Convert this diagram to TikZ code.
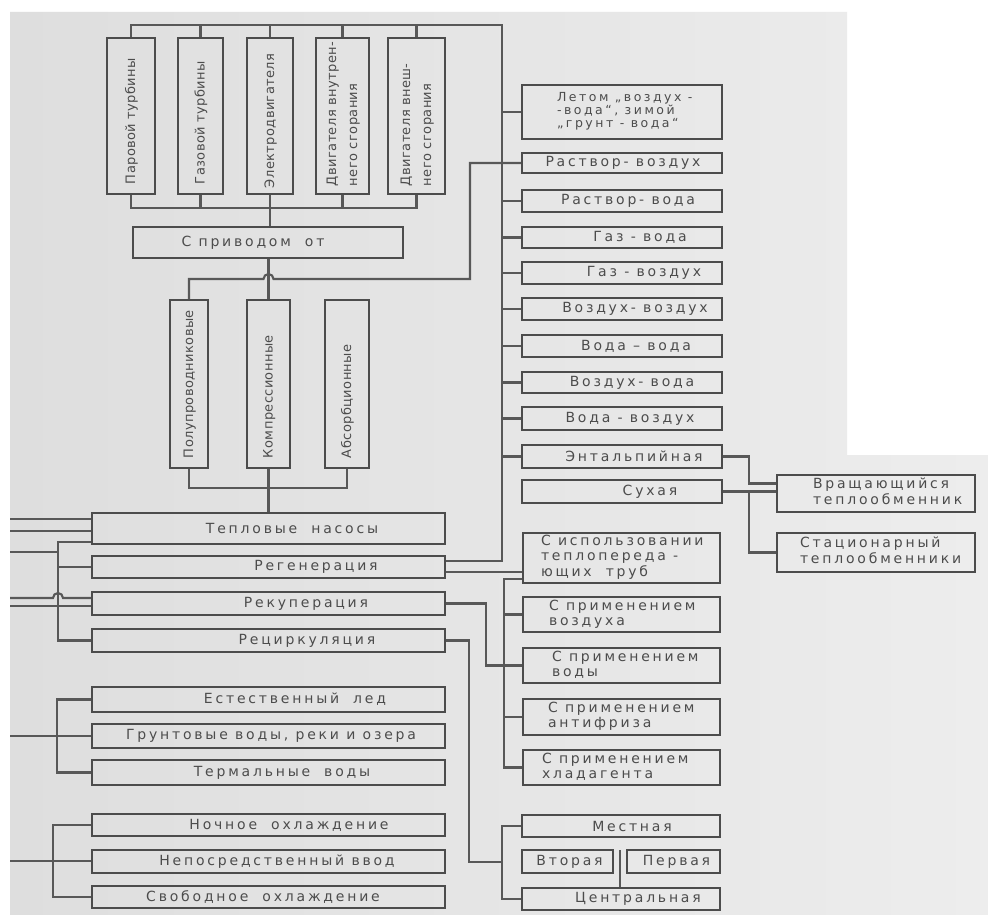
\documentclass[tikz,border=0pt]{standalone}
\usepackage{fontspec}
\setmainfont{DejaVu Sans}
\newfontfamily\hfont[LetterSpace=20]{DejaVu Sans}
\newfontfamily\vfont[LetterSpace=3]{DejaVu Sans}
\usetikzlibrary{calc}
\definecolor{edge}{HTML}{4C4C4C}
\definecolor{wire}{HTML}{585858}
\definecolor{ink}{HTML}{4C4C4C}
\definecolor{pageL}{HTML}{DEDEDE}
\definecolor{pageR}{HTML}{EDEDED}

% horizontal box, one line of text shifted by #6/2
\newcommand\mkh[7]{%
  \pgfmathsetmacro\mkW{#4-#2}\pgfmathsetmacro\mkH{#5-#3}%
  \node[box, minimum width=\mkW pt, minimum height=\mkH pt]
    (#1) at ({(#2+#4)/2},{(#3+#5)/2}) {\hspace*{#6pt}#7};}
% horizontal box, several left-aligned lines indented by #6
\newcommand\mkl[8]{%
  \pgfmathsetmacro\mkW{#4-#2}\pgfmathsetmacro\mkH{#5-#3}%
  \node[box, inner xsep=0pt, minimum width=\mkW pt, minimum height=\mkH pt, #8]
    (#1) at ({(#2+#4)/2},{(#3+#5)/2})
    {\makebox[\mkW pt][l]{\hspace*{#6pt}\begin{tabular}{@{}l@{}}#7\end{tabular}}};}
% upright box with text running bottom to top, indented by #6 from the bottom
\newcommand\mkv[7]{%
  \pgfmathsetmacro\mkW{#4-#2}\pgfmathsetmacro\mkH{#5-#3}%
  \node[vbox, minimum width=\mkH pt, minimum height=\mkW pt]
    (#1) at ({(#2+#4)/2},{(#3+#5)/2})
    {\makebox[\mkH pt][l]{\hspace*{#6pt}\begin{tabular}{@{}l@{}}#7\end{tabular}}};}

\begin{document}
\begin{tikzpicture}[x=1pt,y=-1pt,
  box/.style={draw=edge, line width=2.4pt, inner sep=0pt, text=ink,
              font=\hfont\fontsize{14}{15}\selectfont},
  vbox/.style={box, rotate=90, font=\vfont\fontsize{13}{21}\selectfont},
  link/.style={draw=wire, line width=2.1pt, line join=miter}]

\useasboundingbox (0,0) rectangle (988,915);
\fill[white] (0,0) rectangle (988,915);
\shade[left color=pageL, right color=pageR]
  (10,12) -- (847,12) -- (847,455) -- (988,455) -- (988,915) -- (10,915) -- cycle;

% drives
\mkv{p1}{107}{38}{155}{194}{10}{Паровой турбины}
\mkv{p2}{178}{38}{223}{194}{10}{Газовой турбины}
\mkv{p3}{247}{38}{293}{194}{6}{Электродвигателя}
\mkv{p4}{316}{38}{369}{194}{8}{Двигателя внутрен-\\него сгорания}
\mkv{p5}{388}{38}{445}{194}{8}{Двигателя внеш-\\него сгорания}
\mkh{drive}{133}{227}{403}{258}{-30}{С приводом\quad от}

% heat pump kinds
\mkv{s1}{170}{300}{208}{468}{10}{Полупроводниковые}
\mkv{s2}{247}{300}{290}{468}{10}{Компрессионные}
\mkv{s3}{325}{300}{369}{468}{10}{Абсорбционные}

% left column
\mkh{hp}{92}{513}{445}{544}{47}{Тепловые\quad насосы}
\mkh{reg}{92}{556}{445}{578}{95}{Регенерация}
\mkh{rek}{92}{592}{445}{615}{75}{Рекуперация}
\mkh{rec}{92}{629}{445}{652}{77}{Рециркуляция}
\mkh{ice}{92}{687}{445}{712}{53}{Естественный\quad лед}
\mkh{gw}{92}{724}{445}{748}{5}{Грунтовые воды, реки и озера}
\mkh{tw}{92}{760}{445}{785}{27}{Термальные\quad воды}
\mkh{nc}{92}{814}{445}{836}{41}{Ночное\quad охлаждение}
\mkh{dir}{92}{850}{445}{873}{17}{Непосредственный ввод}
\mkh{fc}{92}{886}{445}{908}{-11}{Свободное\quad охлаждение}

% right column
\mkl{sum}{522}{85}{722}{139}{35}{Летом „воздух -\\-вода“, зимой\\„грунт - вода“}{font=\hfont\fontsize{12.5}{12.5}\selectfont}
\mkh{rv}{522}{153}{722}{173}{2}{Раствор- воздух}
\mkh{rw}{522}{190}{722}{212}{12}{Раствор- вода}
\mkh{gv}{522}{227}{722}{248}{36}{Газ - вода}
\mkh{ga}{522}{262}{722}{284}{44}{Газ - воздух}
\mkh{aa}{522}{298}{722}{320}{26}{Воздух- воздух}
\mkh{ww}{522}{335}{722}{357}{28}{Вода – вода}
\mkh{aw}{522}{372}{722}{393}{20}{Воздух- вода}
\mkh{wa}{522}{407}{722}{430}{16}{Вода - воздух}
\mkh{ent}{522}{445}{722}{468}{24}{Энтальпийная}
\mkh{dry}{522}{480}{722}{503}{56}{Сухая}
\mkl{rot}{777}{475}{975}{512}{36}{Вращающийся\\теплообменник}{}
\mkl{stat}{777}{533}{975}{572}{23}{Стационарный\\теплообменники}{}

\mkl{pipe}{523}{533}{720}{583}{18}{С использовании\\теплопереда -\\ющих\quad труб}{}
\mkl{air}{523}{597}{720}{632}{26}{С применением\\воздуха}{}
\mkl{wat}{523}{648}{720}{683}{29}{С применением\\воды}{}
\mkl{anti}{523}{699}{720}{735}{25}{С применением\\антифриза}{}
\mkl{cool}{523}{750}{720}{785}{19}{С применением\\хладагента}{}

\mkh{loc}{522}{815}{720}{837}{22}{Местная}
\mkh{sec}{522}{850}{613}{873}{4}{Вторая}
\mkh{pri}{627}{850}{720}{873}{6}{Первая}
\mkh{cen}{522}{888}{720}{910}{34}{Центральная}

% drive buses
\coordinate (tR) at (502,25);
\coordinate (jR) at (502,561);
\draw[link] (p1.east) |- (tR) -- (jR) -- (jR -| reg.east);
\foreach \n in {p2,p3,p4,p5} \draw[link] (\n.east) -- (\n.east |- tR);
\coordinate (bB) at (0,208);
\draw[link] (p1.west) |- (p5.west |- bB) -- (p5.west);
\foreach \n in {p2,p4} \draw[link] (\n.west) -- (\n.west |- bB);
\draw[link] (p3.west) -- (drive.north -| p3.west);
\draw[link] (drive.south -| s2.east) -- (s2.east);

% bus over the heat pump kinds, hopping the drive line
\coordinate (mB) at (0,279);
\coordinate (mR) at (470,279);
\draw[link] (s1.east) |- ($(s2.east |- mB)+(-5,0)$)
  arc[start angle=180, end angle=0, radius=5pt] -- (mR) |- (rv.west);
\coordinate (sB) at (0,488);
\draw[link] (s1.west) |- (s3.west |- sB) -- (s3.west);
\draw[link] (s2.west) -- (hp.north -| s2.west);

% stubs off the right spine
\foreach \n in {sum,rw,gv,ga,aa,ww,aw,wa,ent} \draw[link] (\n.west) -- (\n.west -| tR);

% heat exchangers
\coordinate (eX) at (749,0);
\coordinate (rotA) at ([yshift=10pt]rot.west);
\draw[link] (ent.east) -| (eX |- rotA) -- (rotA);
\draw[link] (dry.east) -- (dry.east -| rot.west);
\draw[link] (dry.east -| eX) |- (stat.west);

% regeneration branch
\coordinate (rgB) at ([yshift=-5pt]reg.east);
\draw[link] (rgB) -- (rgB -| pipe.west);
\coordinate (pX) at (504,0);
\coordinate (pT) at ([yshift=-21pt]pipe.west);
\draw[link] (pT) -| (pX |- cool.west) -- (cool.west);
\foreach \n in {air,anti} \draw[link] (\n.west) -- (\n.west -| pX);

% recuperation and recirculation branches
\coordinate (kX) at (486,0);
\draw[link] (rek.east) -| (kX |- wat.west) -- (wat.west);
\coordinate (cX) at (469,862);
\coordinate (lX) at (502,0);
\draw[link] (rec.east) -| (cX) -- (cX -| lX);
\draw[link] (loc.west) -| (lX |- cen.west) -- (cen.west);
\coordinate (vp) at (620,850);
\draw[link] (vp) -- (vp |- cen.north);

% inputs on the left
\coordinate (L1) at (10,519); \draw[link] (L1) -- (L1 -| hp.west);
\coordinate (L2) at (10,531); \draw[link] (L2) -- (L2 -| hp.west);
\coordinate (lb) at (58,542);
\draw[link] (lb -| hp.west) -- (lb) |- (rec.west);
\draw[link] (reg.west) -- (reg.west -| lb);
\coordinate (L3) at (10,552); \draw[link] (L3) -- (L3 -| lb);
\coordinate (L4) at (10,598);
\draw[link] (L4) -- ($(L4 -| lb)+(-5,0)$)
  arc[start angle=180, end angle=0, radius=5pt] -- (L4 -| rek.west);
\coordinate (L5) at (10,606); \draw[link] (L5) -- (L5 -| rek.west);

\coordinate (gX) at (57,0);
\draw[link] (ice.west) -| (gX |- tw.west) -- (tw.west);
\coordinate (L6) at (10,736); \draw[link] (L6) -- (L6 -| gw.west);

\coordinate (nX) at (53,0);
\draw[link] (nc.west) -| (nX |- fc.west) -- (fc.west);
\coordinate (L7) at (10,861); \draw[link] (L7) -- (L7 -| dir.west);
\end{tikzpicture}
\end{document}
